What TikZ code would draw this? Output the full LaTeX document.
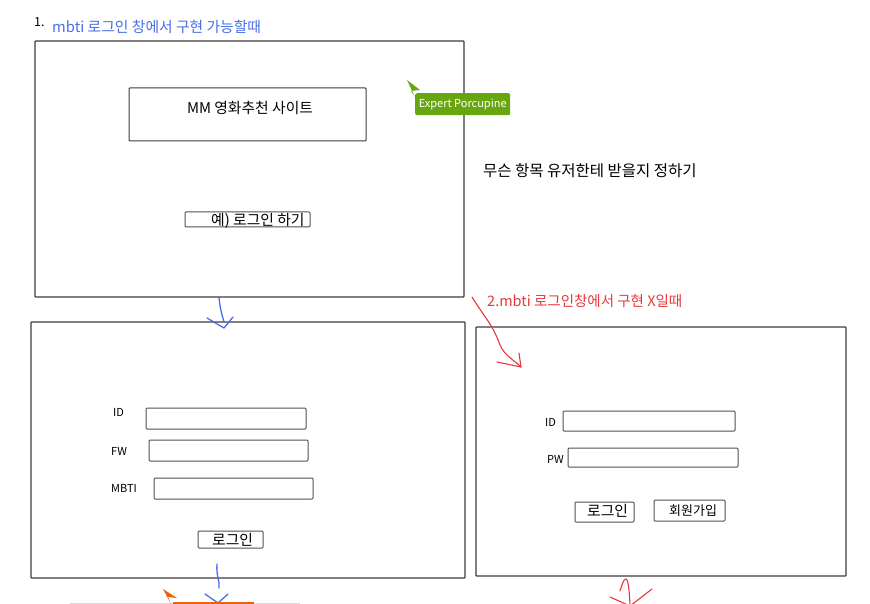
\documentclass[tikz,border=0pt]{standalone}
\usepackage{fontspec}
\setmainfont{Noto Sans CJK KR}
\definecolor{penblue}{HTML}{4A6EE6}
\definecolor{penred}{HTML}{E8383A}
\definecolor{cursgreen}{HTML}{68A611}
\definecolor{cursorange}{HTML}{E8630E}
\definecolor{frame}{HTML}{3C3C3C}
\begin{document}
\begin{tikzpicture}[x=1pt,y=-1pt,
  win/.style={draw=frame, line width=1.3pt, rounded corners=0.8pt, inner sep=0pt, outer sep=0pt, anchor=north west},
  field/.style={draw=frame!90, line width=1pt, rounded corners=1pt, inner sep=0pt, outer sep=0pt, anchor=north west},
  lbl/.style={inner sep=0pt, font=\fontsize{11}{13}\selectfont},
  txt/.style={inner sep=0pt, font=\fontsize{14.8}{17}\selectfont},
  bluepen/.style={draw=penblue, line width=1.3pt, line cap=round, line join=round},
  redpen/.style={draw=penred, line width=1.1pt, line cap=round, line join=round}]
\useasboundingbox (0,0) rectangle (870,604);
\fill[white] (0,0) rectangle (870,604);

% headings
\node[lbl, anchor=west, font=\fontsize{12.5}{14}\selectfont] (n1) at (34,22) {1.};
\node[txt, anchor=west, text=penblue] (t1) at (52,27) {mbti 로그인 창에서 구현 가능할때};
\node[txt, anchor=west, text=penred, font=\fontsize{14.5}{17}\selectfont] (t2) at (487,301) {2.mbti 로그인창에서 구현 X일때};
\node[txt, anchor=west, font=\fontsize{15.5}{17}\selectfont] (note) at (483,171) {무슨 항목 유저한테 받을지 정하기};

% window A
\node[win, minimum width=429pt, minimum height=256pt] (A) at (35,41) {};
\node[win, line width=1pt, minimum width=237pt, minimum height=53pt] (title) at (129,88) {};
\node[txt] (titletxt) at (250,108) {MM 영화추천 사이트};
\node[field, minimum width=125pt, minimum height=15pt] (lbtn) at (185,212) {};
\node[txt, anchor=west] (lbtntxt) at (211,221) {예) 로그인 하기};

% cursor green
\fill[cursgreen] (407,80) -- (415,97) -- (411,91) -- (420,90) -- cycle;
\node[fill=cursgreen, rounded corners=2pt, text=white, anchor=north west, minimum width=95pt, minimum height=22pt, inner sep=0pt, font=\fontsize{11}{12}\selectfont] (cur1) at (415,93) {Expert Porcupine};

% window B
\node[win, minimum width=434pt, minimum height=256pt] (B) at (31,322) {};
\node[lbl, anchor=west] (idB) at (113,412) {ID};
\node[field, minimum width=160pt, minimum height=21pt] (idBf) at (146,408) {};
\node[lbl, anchor=west] (fwB) at (111,451) {FW};
\node[field, minimum width=159pt, minimum height=21pt] (fwBf) at (149,440) {};
\node[lbl, anchor=west] (mbB) at (111,488) {MBTI};
\node[field, minimum width=159pt, minimum height=21pt] (mbBf) at (154,478) {};
\node[field, minimum width=65pt, minimum height=17pt] (loginB) at (198,531) {};
\node[txt, anchor=west] (loginBtxt) at (212,540) {로그인};

% window C
\node[win, minimum width=370pt, minimum height=249pt] (C) at (476,327) {};
\node[lbl, anchor=west] (idC) at (545,422) {ID};
\node[field, minimum width=172pt, minimum height=20pt] (idCf) at (563,411) {};
\node[lbl, anchor=west] (pwC) at (547,459) {PW};
\node[field, minimum width=170pt, minimum height=19pt] (pwCf) at (568,448) {};
\node[field, minimum width=59pt, minimum height=20pt] (loginC) at (575,502) {};
\node[txt, anchor=west] (loginCtxt) at (587,511) {로그인};
\node[field, minimum width=71pt, minimum height=21pt] (joinC) at (654,500) {};
\node[lbl, anchor=west, font=\fontsize{13}{15}\selectfont] (joinCtxt) at (669,511) {회원가입};

% blue arrows
\draw[bluepen] ([xshift=184pt]A.south west) .. controls (220,310) and (223,318) .. ([xshift=193pt]B.north west);
\draw[bluepen] (207,318) -- (224,328) -- (233,317);
\coordinate (endB) at (218,603);
\draw[bluepen] ([xshift=186pt,yshift=14pt]B.south west) .. controls (216,575) and (220,582) .. (219,588);
\draw[bluepen] (205,594) -- (endB) -- (228,594);

% red arrows
\coordinate (redEnd) at (521,367);
\draw[redpen] ([xshift=-15pt,yshift=4pt]t2.west) .. controls (485,318) and (493,325) .. (500,345) .. controls (505,356) and (514,360) .. (redEnd);
\draw[redpen] (497,362) -- (redEnd) -- (519,353);
\coordinate (redEnd2) at (630,606);
\draw[redpen] ([xshift=144pt,yshift=-15pt]C.south west) .. controls (627,567) and (629,582) .. (redEnd2);
\draw[redpen] ([xshift=176pt,yshift=-13pt]C.south west) -- (redEnd2);
\draw[redpen] (610,597) -- (redEnd2);

% bottom cut-off items
\draw[black!15, line width=1pt] (70,603.5) -- (300,603.5);
\fill[cursorange] (163,589) -- (171,604) -- (168,597) -- (177,598) -- cycle;
\fill[cursorange] (173,602) rectangle (254,606);
\end{tikzpicture}
\end{document}
